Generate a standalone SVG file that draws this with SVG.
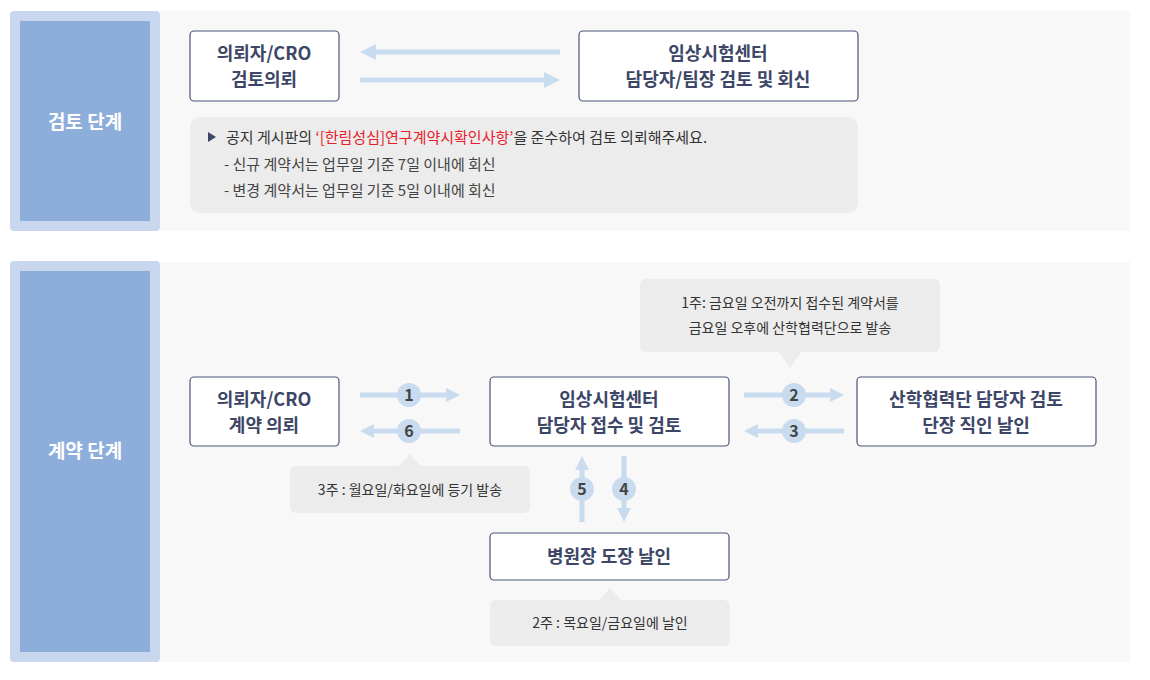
<svg xmlns="http://www.w3.org/2000/svg" width="1150" height="680" viewBox="0 0 1150 680">
<style>
text{font-family:"Noto Sans CJK KR","Noto Sans",sans-serif}
.node{fill:#fff;stroke:#4a5578;stroke-width:1.2}
.nt{font-size:18px;font-weight:bold;fill:#3d4667;text-anchor:middle}
.ln{stroke:#c9dbef;stroke-width:5;fill:none}
.hd{fill:#c9dbef}
.cir{fill:#c9dbef}
.num{font-size:16px;font-weight:bold;fill:#444;text-anchor:middle}
.cb{fill:#ececec}
.ct{font-size:14px;fill:#333;text-anchor:middle}
.side{font-size:19px;font-weight:bold;fill:#fff;text-anchor:middle}
</style>
<rect width="1150" height="680" fill="#fff"/>
<g id="panels">
<rect x="160" y="11" width="970" height="220" fill="#f8f8f8"/>
<rect x="160" y="262" width="970" height="400" fill="#f8f8f8"/>
<rect x="10" y="11" width="150" height="220" rx="4" fill="#c8d7ee"/>
<rect x="20" y="21" width="130" height="200" fill="#8dadda"/>
<text class="side" x="85" y="129">검토 단계</text>
<rect x="10" y="261" width="150" height="401" rx="4" fill="#c8d7ee"/>
<rect x="20" y="271" width="130" height="381" fill="#8dadda"/>
<text class="side" x="85" y="458">계약 단계</text>
</g>
<g id="connectors">
<line class="ln" x1="560" y1="52" x2="374" y2="52"/><path class="hd" d="M360 52 L376 44 L376 60 Z"/>
<line class="ln" x1="360" y1="80" x2="546" y2="80"/><path class="hd" d="M560 80 L544 72 L544 88 Z"/>
<line class="ln" x1="360" y1="395" x2="447" y2="395"/><path class="hd" d="M460 395 L446 388 L446 402 Z"/>
<circle class="cir" cx="409" cy="395" r="12"/><text class="num" x="409" y="401">1</text>
<line class="ln" x1="460" y1="431" x2="373" y2="431"/><path class="hd" d="M360 431 L374 424 L374 438 Z"/>
<circle class="cir" cx="409" cy="431" r="12"/><text class="num" x="409" y="437">6</text>
<line class="ln" x1="744" y1="395" x2="831" y2="395"/><path class="hd" d="M844 395 L830 388 L830 402 Z"/>
<circle class="cir" cx="794" cy="395" r="12"/><text class="num" x="794" y="401">2</text>
<line class="ln" x1="844" y1="431" x2="757" y2="431"/><path class="hd" d="M744 431 L758 424 L758 438 Z"/>
<circle class="cir" cx="794" cy="431" r="12"/><text class="num" x="794" y="437">3</text>
<line class="ln" x1="582" y1="522" x2="582" y2="470"/><path class="hd" d="M582 456 L575 470 L589 470 Z"/>
<circle class="cir" cx="582" cy="489" r="12"/><text class="num" x="582" y="495">5</text>
<line class="ln" x1="624" y1="456" x2="624" y2="508"/><path class="hd" d="M624 522 L617 508 L631 508 Z"/>
<circle class="cir" cx="624" cy="489" r="12"/><text class="num" x="624" y="495">4</text>
</g>
<g id="nodeA"><rect class="node" x="190" y="31" width="149" height="70" rx="4"/><text class="nt" x="264" y="60">의뢰자/CRO</text><text class="nt" x="264" y="86">검토의뢰</text></g>
<g id="nodeB"><rect class="node" x="579" y="31" width="279" height="70" rx="4"/><text class="nt" x="718" y="60">임상시험센터</text><text class="nt" x="718" y="86">담당자/팀장 검토 및 회신</text></g>
<g id="note">
<rect class="cb" x="190" y="117" width="668" height="96" rx="10"/>
<path d="M208 132 L216 137 L208 142 Z" fill="#3d4667"/>
<text x="226" y="143" font-size="15" fill="#333">공지 게시판의 <tspan fill="#e8202a">‘[한림성심]연구계약시확인사항’</tspan>을 준수하여 검토 의뢰해주세요.</text>
<text x="224" y="170" font-size="15" fill="#444">- 신규 계약서는 업무일 기준 7일 이내에 회신</text>
<text x="224" y="196" font-size="15" fill="#444">- 변경 계약서는 업무일 기준 5일 이내에 회신</text>
</g>
<g id="nodeC"><rect class="node" x="190" y="377" width="149" height="69" rx="4"/><text class="nt" x="264" y="406">의뢰자/CRO</text><text class="nt" x="264" y="432">계약 의뢰</text></g>
<g id="nodeD"><rect class="node" x="490" y="377" width="239" height="69" rx="4"/><text class="nt" x="609" y="406">임상시험센터</text><text class="nt" x="609" y="432">담당자 접수 및 검토</text></g>
<g id="nodeE"><rect class="node" x="857" y="377" width="239" height="69" rx="4"/><text class="nt" x="976" y="406">산학협력단 담당자 검토</text><text class="nt" x="976" y="432">단장 직인 날인</text></g>
<g id="nodeF"><rect class="node" x="490" y="533" width="239" height="47" rx="4"/><text class="nt" x="609" y="563">병원장 도장 날인</text></g>
<g id="callout1"><rect class="cb" x="640" y="279" width="300" height="73" rx="6"/><path class="cb" d="M778 351 L790 368 L802 351 Z"/><text class="ct" x="790" y="308">1주: 금요일 오전까지 접수된 계약서를</text><text class="ct" x="790" y="333">금요일 오후에 산학협력단으로 발송</text></g>
<g id="callout3"><rect class="cb" x="290" y="466" width="240" height="47" rx="6"/><path class="cb" d="M398 467 L410 454 L422 467 Z"/><text class="ct" x="410" y="495">3주 : 월요일/화요일에 등기 발송</text></g>
<g id="callout2"><rect class="cb" x="490" y="600" width="240" height="46" rx="6"/><path class="cb" d="M598 601 L610 588 L622 601 Z"/><text class="ct" x="610" y="628">2주 : 목요일/금요일에 날인</text></g>
</svg>
